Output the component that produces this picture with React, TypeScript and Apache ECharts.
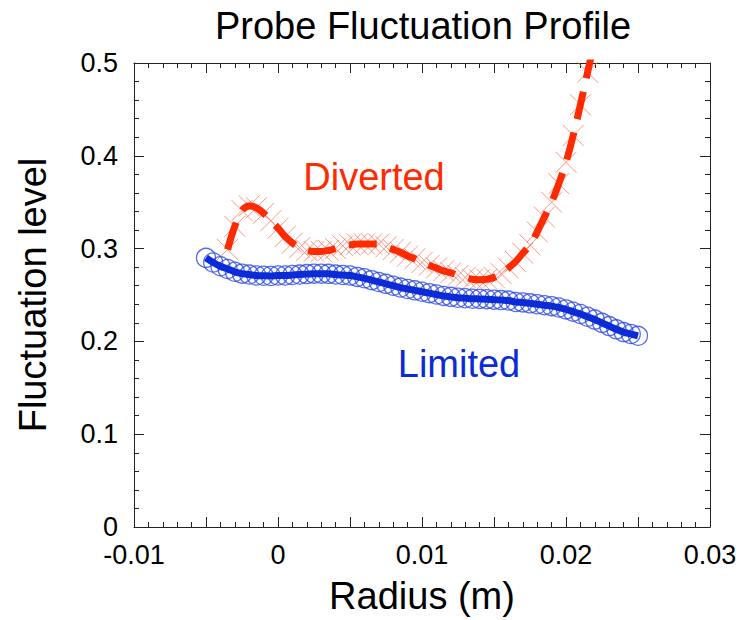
import React, { useEffect, useRef } from "react";
import * as echarts from "echarts";

// ---- Data ----
const limitedX: number[] = [
  -0.005, -0.0045, -0.004, -0.0035, -0.003, -0.0025, -0.002, -0.0015, -0.001, -0.0005,
  0.0, 0.0005, 0.001, 0.0015, 0.002, 0.0025, 0.003, 0.0035, 0.004, 0.0045,
  0.005, 0.0055, 0.006, 0.0065, 0.007, 0.0075, 0.008, 0.0085, 0.009, 0.0095,
  0.01, 0.0105, 0.011, 0.0115, 0.012, 0.0125, 0.013, 0.0135, 0.014, 0.0145,
  0.015, 0.0155, 0.016, 0.0165, 0.017, 0.0175, 0.018, 0.0185, 0.019, 0.0195,
  0.02, 0.0205, 0.021, 0.0215, 0.022, 0.0225, 0.023, 0.0235, 0.024, 0.0245, 0.025,
];
const limitedY: number[] = [
  0.29, 0.285, 0.281, 0.278, 0.275, 0.273, 0.272, 0.271, 0.2707, 0.2705,
  0.271, 0.271, 0.2715, 0.272, 0.2725, 0.273, 0.273, 0.2728, 0.272, 0.2715,
  0.271, 0.2695, 0.268, 0.266, 0.264, 0.262, 0.26, 0.258, 0.2565, 0.255,
  0.2535, 0.252, 0.2505, 0.249, 0.248, 0.247, 0.2465, 0.246, 0.2458, 0.2455,
  0.245, 0.2445, 0.244, 0.2425, 0.242, 0.241, 0.24, 0.239, 0.238, 0.2365,
  0.2345, 0.232, 0.2295, 0.2265, 0.2235, 0.22, 0.2165, 0.213, 0.21, 0.208, 0.206,
];
const divertedX: number[] = [
  -0.0035, -0.003, -0.0025, -0.002, -0.0015, -0.001, -0.0005,
  0.0, 0.0005, 0.001, 0.0015, 0.002, 0.0025, 0.003, 0.0035, 0.004, 0.0045,
  0.005, 0.0055, 0.006, 0.0065, 0.007, 0.0075, 0.008, 0.0085, 0.009, 0.0095,
  0.01, 0.0105, 0.011, 0.0115, 0.012, 0.0125, 0.013, 0.0135, 0.014, 0.0145,
  0.015, 0.0155, 0.016, 0.0165, 0.017, 0.0175, 0.018, 0.0185, 0.019, 0.0195,
  0.02, 0.0205, 0.021, 0.0215, 0.022,
];
const divertedY: number[] = [
  0.299, 0.324, 0.341, 0.346, 0.344, 0.338, 0.33,
  0.322, 0.313, 0.306, 0.301, 0.298, 0.297, 0.297, 0.298, 0.3, 0.303,
  0.304, 0.305, 0.305, 0.305, 0.305, 0.302, 0.299, 0.296, 0.292, 0.289,
  0.285, 0.282, 0.279, 0.276, 0.274, 0.271, 0.269, 0.267, 0.2665, 0.267,
  0.269, 0.273, 0.279, 0.286, 0.295, 0.304, 0.318, 0.334, 0.35, 0.37,
  0.393, 0.422, 0.455, 0.49, 0.525,
];
const titleText = "Probe Fluctuation Profile";
const xAxisName = "Radius (m)";
const yAxisName = "Fluctuation level";
const divertedLabel = "Diverted";
const limitedLabel = "Limited";

const FONT = "'Liberation Sans', Arial, Helvetica, sans-serif";
const RED = "#ff2a00";
const RED_MARK = "#ff7a66";
const BLUE = "#0a2bd6";
const BLUE_MARK = "#2a48e6";

const pairs = (xs: number[], ys: number[]) => xs.map((x, i) => [x, ys[i]]);

const fmtX = (v: number) => {
  const k = v * 100;
  if (Math.abs(k - Math.round(k)) > 1e-6) return "";
  const r = Math.round(k) / 100;
  return r === 0 ? "0" : String(r);
};

export default function App() {
  const ref = useRef<HTMLDivElement>(null);
  useEffect(() => {
    if (!ref.current) return;
    const chart = echarts.init(ref.current, undefined, { renderer: "svg" });
    const axisLine = { show: true, onZero: false, lineStyle: { color: "#222", width: 1 } };
    const tick = { show: true, inside: true, length: 10, lineStyle: { color: "#222" } };
    const minor = { show: true, splitNumber: 5, length: 5, lineStyle: { color: "#222" } };
    const xCommon = {
      type: "value" as const,
      min: -0.01,
      max: 0.03,
      interval: 0.005,
      splitLine: { show: false },
      axisLine,
      axisTick: tick,
      minorTick: minor,
    };
    const yCommon = {
      type: "value" as const,
      min: 0,
      max: 0.5,
      interval: 0.1,
      splitLine: { show: false },
      axisLine,
      axisTick: tick,
      minorTick: minor,
    };
    chart.setOption({
      animation: false,
      grid: { left: 134, right: 30, top: 63, bottom: 91 },
      xAxis: [
        {
          ...xCommon,
          position: "bottom",
          name: xAxisName,
          nameLocation: "middle",
          nameGap: 50,
          nameTextStyle: { fontFamily: FONT, fontSize: 38, color: "#000" },
          axisLabel: { formatter: fmtX, fontFamily: FONT, fontSize: 27, color: "#000", margin: 14 },
        },
        { ...xCommon, position: "top", axisLabel: { show: false } },
      ],
      yAxis: [
        {
          ...yCommon,
          position: "left",
          name: yAxisName,
          nameLocation: "middle",
          nameGap: 82,
          nameRotate: 90,
          nameTextStyle: { fontFamily: FONT, fontSize: 38, color: "#000" },
          axisLabel: { fontFamily: FONT, fontSize: 27, color: "#000", margin: 16 },
        },
        { ...yCommon, position: "right", axisLabel: { show: false } },
      ],
      graphic: [
        {
          type: "text",
          x: 423,
          y: 26,
          style: { text: titleText, fill: "#000", font: `38px ${FONT}`, align: "center", verticalAlign: "middle" },
        },
        {
          type: "text",
          x: 374,
          y: 177,
          z: 10,
          style: { text: divertedLabel, fill: RED, font: `38px ${FONT}`, align: "center", verticalAlign: "middle" },
        },
        {
          type: "text",
          x: 459,
          y: 364,
          z: 10,
          style: { text: limitedLabel, fill: BLUE, font: `38px ${FONT}`, align: "center", verticalAlign: "middle" },
        },
      ],
      series: [
        {
          type: "scatter",
          data: pairs(divertedX, divertedY),
          symbol: "path://M0 0L20 20M20 0L0 20",
          symbolSize: 21,
          itemStyle: { color: "transparent", borderColor: RED_MARK, borderWidth: 1 },
          clip: true,
          silent: true,
        },
        {
          type: "scatter",
          data: pairs(limitedX, limitedY),
          symbol: "circle",
          symbolSize: 19,
          itemStyle: { color: "transparent", borderColor: BLUE_MARK, borderWidth: 1.3 },
          clip: true,
          silent: true,
        },
        {
          type: "line",
          data: pairs(divertedX, divertedY),
          showSymbol: false,
          smooth: 0.4,
          clip: true,
          lineStyle: { color: RED, width: 7, type: [28, 14], cap: "butt" },
          silent: true,
        },
        {
          type: "line",
          data: pairs(limitedX, limitedY),
          showSymbol: false,
          smooth: 0.4,
          clip: true,
          lineStyle: { color: BLUE, width: 7 },
          silent: true,
        },
      ],
    });
    return () => chart.dispose();
  }, []);
  return <div ref={ref} style={{ position: "absolute", left: 0, top: 0, width: 740, height: 620 }} />;
}
